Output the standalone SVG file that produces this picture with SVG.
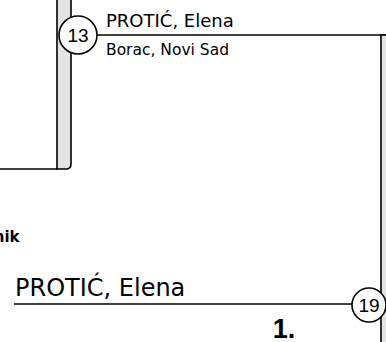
<svg xmlns="http://www.w3.org/2000/svg" width="386" height="342" viewBox="0 0 386 342">
<style>
.ln{stroke:#000;stroke-width:1.6;fill:none}
.bar{fill:#e4e4e4;stroke:#000;stroke-width:1.6}
.circ{fill:#fff;stroke:#000;stroke-width:1.6}
.seed{font-family:"Liberation Sans",Arial,sans-serif;font-size:19px;fill:#000;text-anchor:middle}
.name{font-family:"DejaVu Sans",Verdana,sans-serif;fill:#000}
</style>
<rect width="386" height="342" fill="#fff"/>
<g id="connectors">
<line class="ln" x1="0" y1="169" x2="58" y2="169"/>
<line class="ln" x1="96" y1="35" x2="386" y2="35"/>
<line class="ln" x1="14" y1="304" x2="352" y2="304"/>
</g>
<g id="bar-left">
<path class="bar" d="M57,-5 V169 H66 Q71,169 71,164 V-5"/>
</g>
<g id="bar-right">
<rect class="bar" x="381" y="35" width="20" height="320"/>
</g>
<g id="node-13">
<circle class="circ" cx="78" cy="35" r="19"/>
<text class="seed" x="78" y="42">13</text>
<text class="name" x="106" y="27" font-size="18">PROTIĆ, Elena</text>
<text class="name" x="106" y="55" font-size="15.5">Borac, Novi Sad</text>
</g>
<g id="label-nik">
<text class="name" x="19.5" y="242" font-size="15" font-weight="bold" text-anchor="end">nik</text>
</g>
<g id="node-19">
<text class="name" x="15" y="296" font-size="24">PROTIĆ, Elena</text>
<circle class="circ" cx="369" cy="305" r="17"/>
<text class="seed" x="369" y="312">19</text>
</g>
<g id="place">
<text x="284" y="337.5" font-family="'Liberation Sans',Arial,sans-serif" font-size="27" font-weight="bold" text-anchor="middle">1.</text>
</g>
</svg>
